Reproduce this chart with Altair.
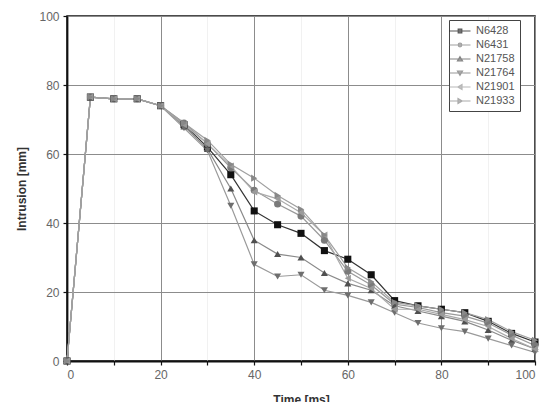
import altair as alt
import pandas as pd

times = [0, 5, 10, 15, 20, 25, 30, 35, 40, 45, 50, 55, 60, 65, 70, 75, 80, 85, 90, 95, 100]
series_names = ["N6428", "N6431", "N21758", "N21764", "N21901", "N21933"]
n6428 = [0, 76.5, 76, 76, 74, 68.5, 62, 54, 43.5, 39.5, 37, 32, 29.5, 25, 17.5, 16, 15, 14, 11.5, 8, 5.5]
n6431 = [0, 76.5, 76, 76, 74, 69, 63, 56, 49.5, 45.5, 42, 35, 26, 22, 16.5, 15.5, 14, 13, 11, 7.5, 4.5]
n21758 = [0, 76.5, 76, 76, 74, 68, 61.5, 50, 35, 31, 30, 25.5, 22.5, 20.5, 16, 14.5, 13, 11.5, 9, 6, 3.5]
n21764 = [0, 76.5, 76, 76, 74, 67.5, 61, 45, 28, 24.5, 25, 20.5, 19, 17, 14, 11, 9.5, 8.5, 6.5, 4.5, 2.5]
n21901 = [0, 76.5, 76, 76, 74, 68.5, 63, 56.5, 49, 47, 43, 36.5, 24, 21, 15, 15, 13.5, 12, 10, 6.5, 3.5]
n21933 = [0, 76.5, 76, 76, 74, 69, 64, 57, 53, 48, 44, 36.5, 27, 23, 17, 16, 15, 14, 12, 8.5, 6]

all_values = [n6428, n6431, n21758, n21764, n21901, n21933]
rows = []
for name, vals in zip(series_names, all_values):
    for t, v in zip(times, vals):
        rows.append({"t": t, "v": v, "series": name})
df = pd.DataFrame(rows)

marker_colors = ["#111111", "#7a7a7a", "#505050", "#6e6e6e", "#9a9a9a", "#888888"]
line_colors = ["#333333", "#9a9a9a", "#8a8a8a", "#9a9a9a", "#aaaaaa", "#a0a0a0"]
std_shapes = ["square", "circle", "triangle-up", "triangle-down", "triangle-left", "triangle-right"]
legend_shapes = [
    "M-2.1,0H2.1M-0.36,-0.36H0.36V0.36H-0.36Z",
    "M-2.1,0H2.1M-0.36,0A0.36,0.36,0,1,0,0.36,0A0.36,0.36,0,1,0,-0.36,0Z",
    "M-2.1,0H2.1M0,-0.45L0.5,0.4H-0.5Z",
    "M-2.1,0H2.1M0,0.45L0.5,-0.4H-0.5Z",
    "M-2.1,0H2.1M-0.45,0L0.4,-0.5V0.5Z",
    "M-2.1,0H2.1M0.45,0L-0.4,-0.5V0.5Z",
]

major = "datum.value % 20 === 0"
grid_color = {"condition": {"test": major, "value": "#8c8c8c"}, "value": "#f1f1f1"}

x_enc = alt.X(
    "t:Q",
    scale=alt.Scale(domain=[0, 100], nice=False),
    axis=alt.Axis(
        title="Time [ms]",
        values=list(range(0, 101, 10)),
        labelExpr="datum.value % 20 === 0 ? datum.label : ''",
        gridColor=grid_color,
    ),
)
y_enc = alt.Y(
    "v:Q",
    scale=alt.Scale(domain=[0, 100], nice=False),
    axis=alt.Axis(
        title="Intrusion [mm]",
        values=list(range(0, 101, 10)),
        labelExpr="datum.value % 20 === 0 ? datum.label : ''",
        gridColor=grid_color,
    ),
)

base = alt.Chart(df)

lines = base.mark_line(strokeWidth=1.2).encode(
    x=x_enc,
    y=y_enc,
    color=alt.Color("series:N", scale=alt.Scale(domain=series_names, range=line_colors), legend=None),
    order="t:Q",
)

points = base.mark_point(filled=True, size=50, opacity=1).encode(
    x="t:Q",
    y="v:Q",
    color=alt.Color("series:N", scale=alt.Scale(domain=series_names, range=marker_colors), legend=None),
    shape=alt.Shape("series:N", scale=alt.Scale(domain=series_names, range=std_shapes), legend=None),
)

legend_layer = base.transform_filter("datum.t < 0").mark_point(filled=False, strokeWidth=1.2).encode(
    x="t:Q",
    y="v:Q",
    color=alt.Color("series:N", scale=alt.Scale(domain=series_names, range=marker_colors), title=None,
                    legend=alt.Legend(orient="none", legendX=382, legendY=4, title=None)),
    fill=alt.Fill("series:N", scale=alt.Scale(domain=series_names, range=marker_colors), title=None,
                  legend=alt.Legend(orient="none", legendX=382, legendY=4, title=None)),
    shape=alt.Shape("series:N", scale=alt.Scale(domain=series_names, range=legend_shapes), title=None,
                    legend=alt.Legend(orient="none", legendX=382, legendY=4, title=None)),
)

chart = (
    alt.layer(lines, points, legend_layer)
    .resolve_scale(color="independent", shape="independent", fill="independent")
    .properties(
        width=468,
        height=345,
        autosize=alt.AutoSizeParams(type="none"),
        padding={"left": 67, "top": 16, "right": 10, "bottom": 41},
    )
    .configure_view(stroke="#111111", strokeWidth=1.5)
    .configure_axis(
        domainColor="#111111",
        domainWidth=1.8,
        tickColor="#111111",
        tickSize=4,
        tickWidth=1.2,
        labelColor="#666666",
        labelFont="Liberation Sans",
        labelFontSize=12,
        labelPadding=4,
        titleFont="Liberation Sans",
        titleFontSize=12,
        titleFontWeight="bold",
        titleColor="#333333",
        gridWidth=1,
    )
    .configure_axisY(titlePadding=10)
    .configure_axisX(titlePadding=14)
    .configure_legend(
        strokeColor="#444444",
        fillColor="white",
        padding=5,
        labelFont="Liberation Sans",
        labelFontSize=11,
        labelColor="#555555",
        symbolSize=100,
        symbolStrokeWidth=1.2,
        rowPadding=3,
        labelOffset=10,
    )
)

chart.save("out.html", embed_options={"renderer": "svg", "actions": False})
